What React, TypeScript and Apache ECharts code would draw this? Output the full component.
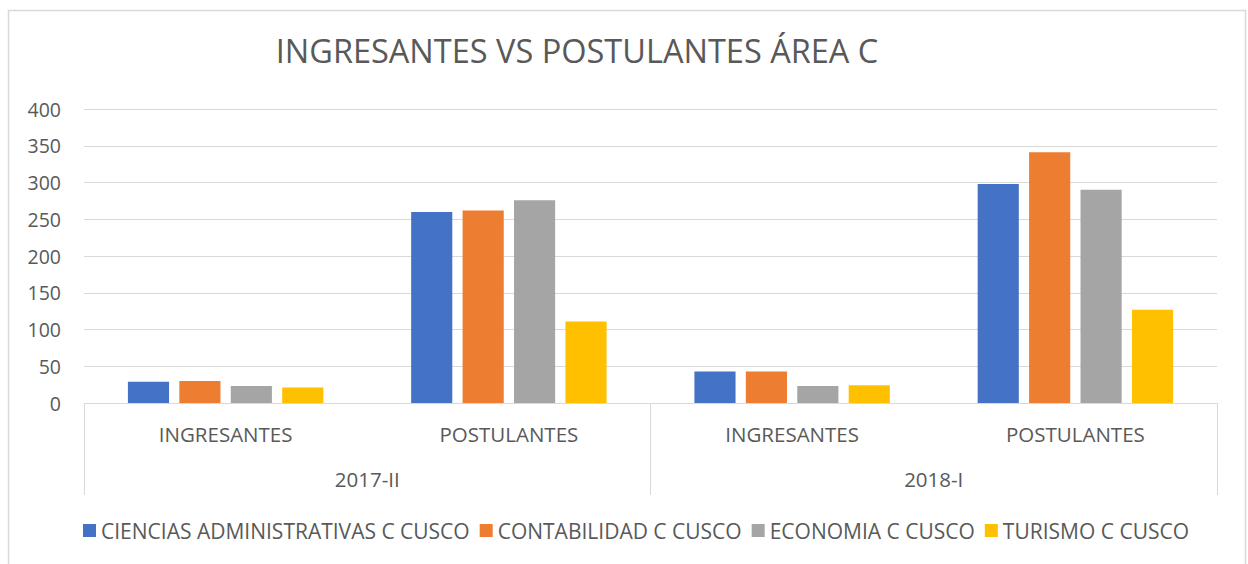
import React, { useEffect, useRef } from "react";
import * as echarts from "echarts";

const periods = ["2017-II", "2018-I"];
const groups = ["INGRESANTES", "POSTULANTES"];
const seriesNames = [
  "CIENCIAS ADMINISTRATIVAS C CUSCO",
  "CONTABILIDAD C CUSCO",
  "ECONOMIA C CUSCO",
  "TURISMO C CUSCO",
];
// order: 2017-II INGRESANTES, 2017-II POSTULANTES, 2018-I INGRESANTES, 2018-I POSTULANTES
const cienciasAdm = [29, 260, 43, 298];
const contabilidad = [30, 262, 43, 341];
const economia = [23, 276, 23, 290];
const turismo = [21, 111, 24, 127];
const colors = ["#4472C4", "#ED7D31", "#A5A5A5", "#FFC000"];
const yTicks = { min: 0, max: 400, interval: 50 };

const FONT = "'Open Sans', sans-serif";
const TEXT = "#595959";
const GRID = "#d9d9d9";

export default function App() {
  const ref = useRef<HTMLDivElement>(null);
  useEffect(() => {
    document.body.style.margin = "0";
    const chart = echarts.init(ref.current!, null, { renderer: "svg" });
    const innerCats: string[] = [];
    periods.forEach((p) => groups.forEach((g) => innerCats.push(p + "|" + g)));
    const values = [cienciasAdm, contabilidad, economia, turismo];
    chart.setOption({
      animation: false,
      textStyle: { fontFamily: FONT },
      grid: { left: 84, right: 31, top: 109, bottom: 161, containLabel: false },
      legend: {
        left: 78,
        top: 515,
        itemWidth: 13,
        itemHeight: 13,
        itemGap: 10,
        icon: "rect",
        textStyle: { fontFamily: FONT, fontSize: 21, color: TEXT },
        data: seriesNames,
      },
      xAxis: [
        {
          type: "category",
          data: innerCats,
          position: "bottom",
          axisLine: { show: true, lineStyle: { color: GRID, width: 1 } },
          axisTick: { show: false },
          axisLabel: {
            interval: 0,
            margin: 20,
            fontFamily: FONT,
            fontSize: 20.5,
            color: TEXT,
            formatter: (v: string) => v.split("|")[1],
          },
        },
        {
          type: "category",
          data: periods,
          position: "bottom",
          axisLine: { show: false },
          axisTick: {
            show: true,
            interval: 0,
            length: 92,
            lineStyle: { color: GRID, width: 1 },
          },
          axisLabel: {
            interval: 0,
            margin: 65,
            fontFamily: FONT,
            fontSize: 20.5,
            color: TEXT,
          },
        },
      ],
      yAxis: {
        type: "value",
        min: yTicks.min,
        max: yTicks.max,
        interval: yTicks.interval,
        axisLine: { show: false },
        axisTick: { show: false },
        splitLine: { lineStyle: { color: GRID, width: 1 } },
        axisLabel: { fontFamily: FONT, fontSize: 19.5, color: TEXT, margin: 23 },
      },
      series: seriesNames.map((name, i) => ({
        name,
        type: "bar",
        xAxisIndex: 0,
        data: values[i],
        barCategoryGap: "31%",
        barGap: "25%",
        itemStyle: { color: colors[i] },
      })),
      graphic: [
        {
          type: "rect",
          shape: { x: 8.5, y: 10.5, width: 1237, height: 600 },
          style: { fill: "none", stroke: GRID, lineWidth: 1.5 },
          silent: true,
        },
        {
          type: "text",
          x: 577,
          y: 50,
          style: {
            text: "INGRESANTES VS POSTULANTES ÁREA C",
            fontFamily: FONT,
            fontWeight: 400,
            fontSize: 32.5,
            fill: TEXT,
            textAlign: "center",
            textVerticalAlign: "middle",
          },
        },
      ],
    });
    return () => chart.dispose();
  }, []);
  return <div ref={ref} style={{ width: 1248, height: 564 }} />;
}
